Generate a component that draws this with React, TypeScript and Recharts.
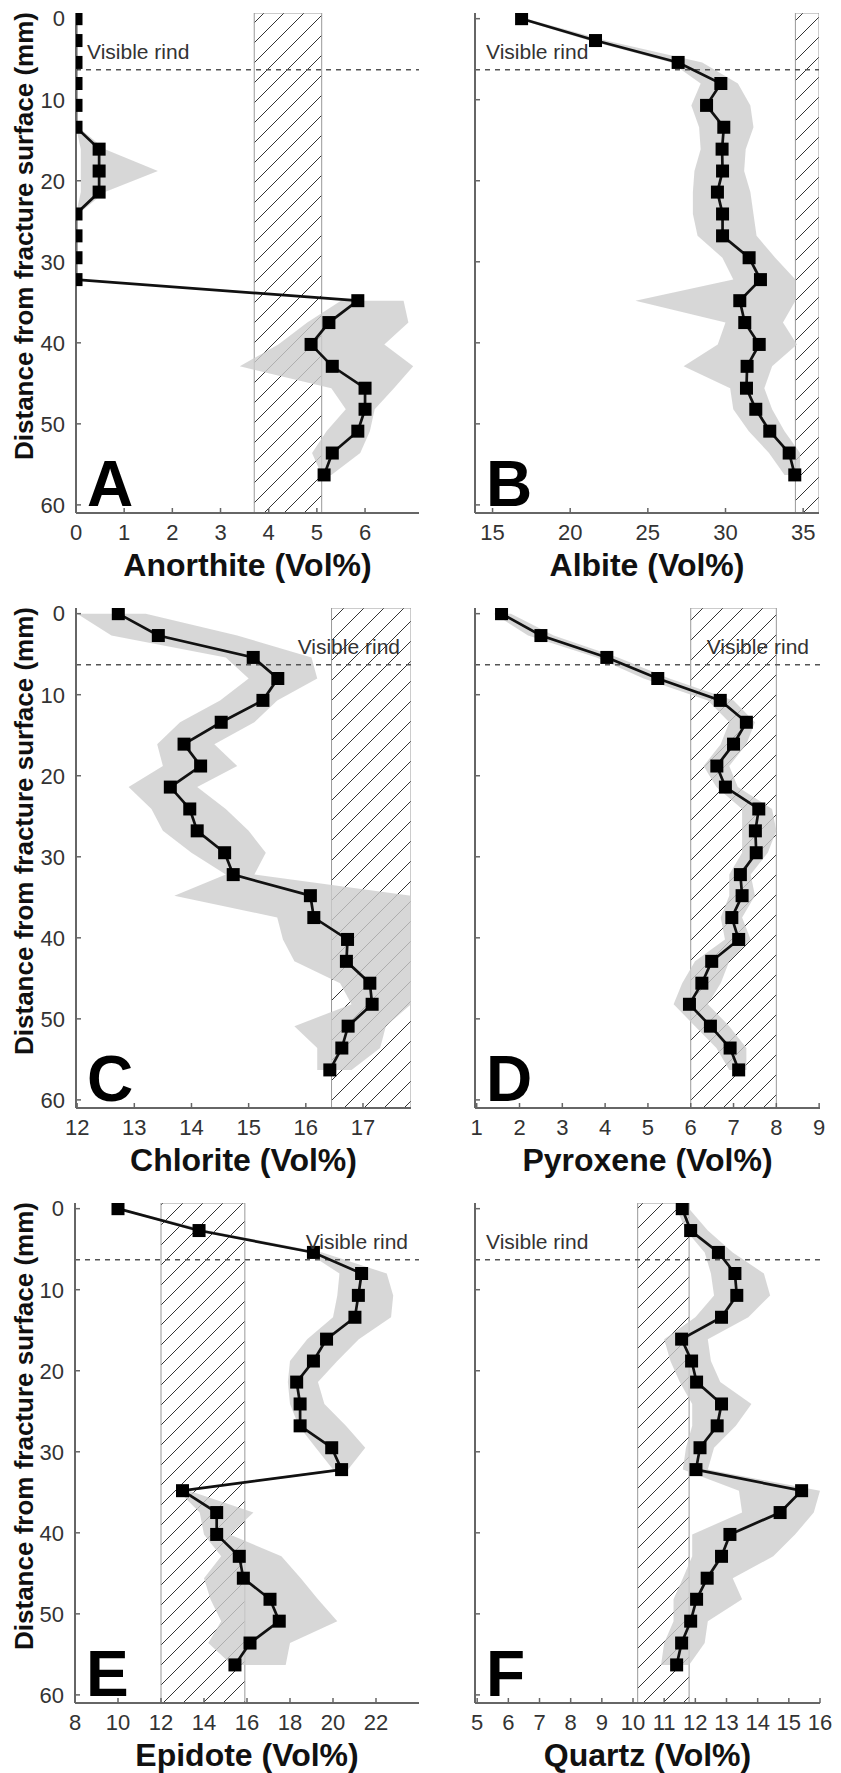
import React from 'react'
import {
  ComposedChart,
  Line,
  Area,
  XAxis,
  YAxis,
  ReferenceArea,
  ReferenceLine,
} from 'recharts'

// depth of each sample below the fracture surface (mm)
const depthMm = [0, 2.7, 5.4, 8.0, 10.7, 13.4, 16.1, 18.8, 21.4, 24.1, 26.8, 29.5, 32.2, 34.8, 37.5, 40.2, 42.9, 45.6, 48.2, 50.9, 53.6, 56.3]
const depthTicks = [0, 10, 20, 30, 40, 50, 60]
const rindDepth = 6.3

const anorthite = [0, 0, 0, 0, 0, 0, 0.48, 0.48, 0.48, 0, 0, 0, 0, 5.85, 5.25, 4.88, 5.32, 6.0, 6.0, 5.85, 5.32, 5.15]
const anorthiteLow = [null, null, null, null, null, 0, 0.1, 0.1, 0.1, 0, null, null, null, 5.5, 4.8, 4.2, 3.4, 5.3, 5.6, 5.2, 4.9, 5.1]
const anorthiteHigh = [null, null, null, null, null, 0.05, 0.6, 1.7, 0.6, 0.05, null, null, null, 6.8, 6.9, 6.4, 7.0, 6.6, 6.2, 6.1, 5.9, 5.3]

const albite = [16.87, 21.63, 26.95, 29.7, 28.78, 29.89, 29.78, 29.81, 29.48, 29.81, 29.81, 31.52, 32.25, 30.92, 31.24, 32.17, 31.39, 31.35, 31.95, 32.85, 34.1, 34.46]
const albiteLow = [16.6, 21.2, 26.5, 28.4, 27.8, 28.3, 28.4, 28.0, 27.9, 27.9, 28.2, 29.8, 30.5, 24.2, 30.0, 29.5, 27.3, 30.3, 30.5, 31.5, 32.8, 33.8]
const albiteHigh = [17.2, 22.3, 28.5, 30.8, 31.6, 31.8, 31.3, 31.2, 31.6, 31.8, 32.0, 33.2, 34.5, 34.5, 33.7, 34.6, 33.0, 32.5, 33.0, 33.8, 34.8, 34.8]

const chlorite = [12.72, 13.42, 15.08, 15.51, 15.25, 14.52, 13.87, 14.16, 13.63, 13.97, 14.1, 14.58, 14.73, 16.08, 16.14, 16.73, 16.71, 17.12, 17.16, 16.74, 16.63, 16.42]
const chloriteLow = [12.0, 12.6, 14.6, 15.0, 14.5, 13.8, 13.4, 13.5, 12.9, 13.3, 13.5, 14.0, 14.6, 13.7, 15.5, 15.6, 15.8, 16.6, 16.8, 15.8, 16.2, 16.2]
const chloriteHigh = [13.2, 14.8, 16.1, 16.2, 15.5, 15.1, 14.4, 14.8, 14.1, 14.6, 15.0, 15.3, 15.1, 17.84, 17.84, 17.84, 17.84, 17.84, 17.84, 17.4, 17.3, 16.8]

const pyroxene = [1.58, 2.5, 4.04, 5.23, 6.69, 7.3, 7.0, 6.61, 6.81, 7.59, 7.51, 7.53, 7.16, 7.2, 6.96, 7.12, 6.49, 6.26, 5.97, 6.46, 6.92, 7.12]
const pyroxeneLow = [1.4, 2.2, 3.8, 4.9, 6.4, 6.9, 6.7, 6.3, 6.6, 7.2, 7.2, 7.2, 6.9, 6.9, 6.7, 6.8, 6.1, 5.8, 5.6, 6.1, 6.6, 6.9]
const pyroxeneHigh = [1.8, 2.8, 4.3, 5.5, 7.0, 7.5, 7.3, 6.9, 7.1, 7.9, 8.0, 7.8, 7.4, 7.5, 7.2, 7.4, 6.9, 6.7, 6.4, 6.9, 7.3, 7.3]

const epidote = [10.0, 13.77, 19.09, 21.33, 21.18, 21.02, 19.7, 19.09, 18.31, 18.47, 18.47, 19.94, 20.4, 13.0, 14.59, 14.59, 15.64, 15.83, 17.07, 17.5, 16.14, 15.44]
const epidoteLow = [9.9, 13.5, 18.8, 20.3, 20.2, 20.0, 18.8, 18.0, 17.9, 18.0, 18.4, 19.2, 20.0, 12.8, 13.8, 14.0, 14.8, 14.0, 14.3, 14.8, 14.2, 15.3]
const epidoteHigh = [10.2, 14.2, 19.5, 22.5, 22.8, 22.7, 21.2, 20.2, 19.3, 19.6, 20.6, 21.5, 20.7, 13.3, 16.3, 15.2, 17.6, 18.5, 19.3, 20.2, 18.0, 17.8]

const quartz = [11.58, 11.85, 12.74, 13.27, 13.33, 12.84, 11.56, 11.88, 12.04, 12.84, 12.7, 12.15, 12.02, 15.41, 14.72, 13.11, 12.84, 12.38, 12.04, 11.85, 11.56, 11.4]
const quartzLow = [11.4, 11.7, 12.3, 12.5, 12.6, 12.0, 11.0, 11.2, 11.5, 11.9, 11.9, 11.7, 11.6, 13.4, 13.5, 11.9, 11.9, 11.6, 11.3, 11.3, 11.0, 10.9]
const quartzHigh = [11.8, 12.4, 13.2, 14.2, 14.4, 13.7, 12.4, 12.5, 12.8, 13.8, 13.3, 12.6, 12.4, 16.0, 15.8, 15.2, 14.5, 13.2, 13.5, 12.4, 12.3, 11.8]

const anorthiteTicks = [0, 1, 2, 3, 4, 5, 6]
const albiteTicks = [15, 20, 25, 30, 35]
const chloriteTicks = [12, 13, 14, 15, 16, 17]
const pyroxeneTicks = [1, 2, 3, 4, 5, 6, 7, 8, 9]
const epidoteTicks = [8, 10, 12, 14, 16, 18, 20, 22]
const quartzTicks = [5, 6, 7, 8, 9, 10, 11, 12, 13, 14, 15, 16]

const FONT = '"Liberation Sans", Arial, Helvetica, sans-serif'
const Y_AXIS_W = 76
const PLOT_H = 500
const M_TOP = 16
const M_RIGHT = 16
const X_AXIS_H = 40
const FRAME = '#666'

type PanelProps = {
  id: string
  letter: string
  title: string
  values: number[]
  low: (number | null)[]
  high: (number | null)[]
  xDomain: [number, number]
  xTicks: number[]
  hatch: [number, number]
  rindSide: 'left' | 'right'
  left: number
  top: number
  width: number
  showYLabel: boolean
}

const square = (p: any) => (
  <rect key={`sq-${p.index}`} x={p.cx - 6.5} y={p.cy - 6.5} width={13} height={13} fill="#000" />
)

function Panel(props: PanelProps) {
  const { id, letter, title, values, low, high, xDomain, xTicks, hatch, rindSide, left, top, width, showYLabel } = props
  const rows = depthMm.map((d, i) => ({
    depth: d,
    value: values[i],
    band: low[i] == null || high[i] == null ? null : [low[i], high[i]],
  }))
  const tickStyle = { fontSize: 22, fill: '#333', fontFamily: FONT }

  return (
    <>
      <div style={{ position: 'absolute', left: left - Y_AXIS_W, top: top - M_TOP }}>
        <ComposedChart
          layout="vertical"
          width={Y_AXIS_W + width + M_RIGHT}
          height={M_TOP + PLOT_H + X_AXIS_H}
          data={rows}
          margin={{ top: M_TOP, right: M_RIGHT, bottom: 0, left: 0 }}
        >
          <defs>
            <pattern id={`hatch-${id}`} patternUnits="userSpaceOnUse" width="20" height="20">
              <path d="M-5,5 L5,-5 M0,20 L20,0 M15,25 L25,15" stroke="#333" strokeWidth="1" />
            </pattern>
          </defs>
          <XAxis
            type="number"
            domain={xDomain}
            ticks={xTicks}
            interval={0}
            allowDataOverflow
            height={X_AXIS_H}
            tickSize={-5}
            tickMargin={16}
            tick={tickStyle}
            axisLine={{ stroke: FRAME, strokeWidth: 2 }}
            tickLine={{ stroke: FRAME, strokeWidth: 1.5 }}
          />
          <XAxis
            xAxisId="top"
            orientation="top"
            type="number"
            domain={xDomain}
            ticks={xTicks}
            interval={0}
            allowDataOverflow
            height={0}
            tickSize={-5}
            tickFormatter={() => ''}
            axisLine={{ stroke: FRAME, strokeWidth: 2 }}
            tickLine={{ stroke: FRAME, strokeWidth: 1.5 }}
          />
          <YAxis
            type="number"
            dataKey="depth"
            domain={[-0.7, 61]}
            ticks={depthTicks}
            interval={0}
            allowDataOverflow
            width={Y_AXIS_W}
            tickSize={-5}
            tickMargin={16}
            tick={tickStyle}
            tickFormatter={(v) => (showYLabel ? String(v) : '')}
            axisLine={{ stroke: FRAME, strokeWidth: 2 }}
            tickLine={{ stroke: FRAME, strokeWidth: 1.5 }}
          />
          <YAxis
            yAxisId="r"
            orientation="right"
            type="number"
            domain={[-0.7, 61]}
            allowDataOverflow
            width={0}
            tick={false}
            tickLine={false}
            axisLine={{ stroke: FRAME, strokeWidth: 2 }}
          />
          <ReferenceArea
            x1={hatch[0]}
            x2={hatch[1]}
            fill={`url(#hatch-${id})`}
            fillOpacity={1}
            stroke="#999"
            strokeWidth={1}
            ifOverflow="hidden"
          />
          <Area
            type="linear"
            dataKey="band"
            stroke="none"
            fill="#cdcdcd"
            fillOpacity={0.8}
            isAnimationActive={false}
          />
          <ReferenceLine
            y={rindDepth}
            stroke="#555"
            strokeWidth={1.5}
            strokeDasharray="5 5"
            label={{
              value: 'Visible rind',
              position: rindSide === 'left' ? 'insideBottomLeft' : 'insideBottomRight',
              offset: 11,
              fontSize: 21,
              fill: '#333',
              fontFamily: FONT,
            }}
          />
          <Line
            type="linear"
            dataKey="value"
            stroke="#111"
            strokeWidth={2.7}
            dot={square}
            activeDot={false}
            isAnimationActive={false}
          />
        </ComposedChart>
      </div>
      <div
        style={{
          position: 'absolute',
          left: left + 11,
          top: top + PLOT_H - 61,
          fontSize: 64,
          lineHeight: '64px',
          fontWeight: 'bold',
          color: '#000',
        }}
      >
        {letter}
      </div>
      <div
        style={{
          position: 'absolute',
          left,
          width,
          top: top + PLOT_H + 36,
          fontSize: 32,
          lineHeight: '32px',
          fontWeight: 'bold',
          textAlign: 'center',
          color: '#111',
          whiteSpace: 'nowrap',
        }}
      >
        {title}
      </div>
      {showYLabel && (
        <svg
          width={50}
          height={PLOT_H}
          style={{ position: 'absolute', left: 0, top }}
        >
          <text
            x={24}
            y={PLOT_H / 2 - 27}
            transform={`rotate(-90, 24, ${PLOT_H / 2 - 27})`}
            textAnchor="middle"
            dominantBaseline="central"
            fontSize={26}
            fontWeight="bold"
            fontFamily={FONT}
            fill="#111"
          >
            Distance from fracture surface (mm)
          </text>
        </svg>
      )}
    </>
  )
}

export default function App() {
  return (
    <div
      style={{
        position: 'absolute',
        left: 0,
        top: 0,
        width: 841,
        height: 1773,
        background: '#fff',
        fontFamily: FONT,
        overflow: 'hidden',
      }}
    >
      <Panel id="a" letter="A" title="Anorthite (Vol%)" values={anorthite} low={anorthiteLow} high={anorthiteHigh}
        xDomain={[0, 7.12]} xTicks={anorthiteTicks} hatch={[3.7, 5.1]} rindSide="left"
        left={76} top={13} width={343} showYLabel />
      <Panel id="b" letter="B" title="Albite (Vol%)" values={albite} low={albiteLow} high={albiteHigh}
        xDomain={[13.87, 36.02]} xTicks={albiteTicks} hatch={[34.5, 36.02]} rindSide="left"
        left={475} top={13} width={344} showYLabel={false} />
      <Panel id="c" letter="C" title="Chlorite (Vol%)" values={chlorite} low={chloriteLow} high={chloriteHigh}
        xDomain={[11.98, 17.84]} xTicks={chloriteTicks} hatch={[16.45, 17.84]} rindSide="right"
        left={76} top={608} width={335} showYLabel />
      <Panel id="d" letter="D" title="Pyroxene (Vol%)" values={pyroxene} low={pyroxeneLow} high={pyroxeneHigh}
        xDomain={[0.96, 9.02]} xTicks={pyroxeneTicks} hatch={[6, 8]} rindSide="right"
        left={475} top={608} width={345} showYLabel={false} />
      <Panel id="e" letter="E" title="Epidote (Vol%)" values={epidote} low={epidoteLow} high={epidoteHigh}
        xDomain={[8, 24]} xTicks={epidoteTicks} hatch={[12, 15.9]} rindSide="right"
        left={75} top={1203} width={344} showYLabel />
      <Panel id="f" letter="F" title="Quartz (Vol%)" values={quartz} low={quartzLow} high={quartzHigh}
        xDomain={[4.93, 16]} xTicks={quartzTicks} hatch={[10.15, 11.8]} rindSide="left"
        left={475} top={1203} width={345} showYLabel={false} />
    </div>
  )
}
